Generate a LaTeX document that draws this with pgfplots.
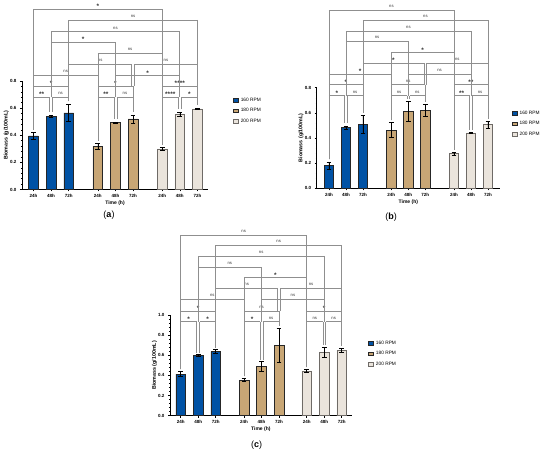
\documentclass[border=0pt]{standalone}
\usepackage{fontspec}
\setmainfont{Liberation Sans}
\usepackage{pgfplots}
\pgfplotsset{compat=1.18}
\definecolor{pblue}{HTML}{0052A5}
\definecolor{ptan}{HTML}{C8A675}
\definecolor{plight}{HTML}{EAE4DC}
\definecolor{brkgray}{HTML}{8F8F8F}
\definecolor{lightedge}{HTML}{6E6A66}
\newcommand{\s}[1]{\raisebox{-2.2pt}{\fontsize{6.5}{6.5}\selectfont\bfseries #1}}
\newcommand{\brk}[6]{%
  \addplot[brk] coordinates {(#1,#2) (#1,#5)};
  \addplot[brk] coordinates {(#1,#5) (#3,#5)} node[pos=0.5, sig] {#6};
  \addplot[brk] coordinates {(#3,#5) (#3,#4)};
}
\tikzset{sig/.style={anchor=base, yshift=2.6pt, inner sep=0pt, font=\fontsize{4.2}{4.2}\selectfont, text=black!80}}
\pgfplotsset{
  brk/.style={brkgray, line width=0.6pt, no markers, forget plot},
  ebar/.style={
    error bars/y dir=both, error bars/y explicit,
    error bars/error bar style={black, line width=0.55pt},
    error bars/error mark options={rotate=90, black, mark size=2.4pt, line width=0.55pt}},
  b160/.style={ybar, bar width=0.55, bar shift=0pt, fill=pblue, draw=black!85, line width=0.6pt, ebar},
  b180/.style={ybar, bar width=0.55, bar shift=0pt, fill=ptan, draw=black!85, line width=0.6pt, ebar},
  b200/.style={ybar, bar width=0.55, bar shift=0pt, fill=plight, draw=lightedge, line width=0.6pt, ebar},
  panel/.style={
    scale only axis, clip=false, anchor=south west,
    axis x line*=bottom, axis y line*=left,
    axis line style={black, line width=0.6pt},
    ymin=0,
    tick align=outside, major tick length=2pt, minor tick length=1.2pt,
    tick style={black, line width=0.5pt},
    minor y tick num=4,
    xticklabels={24h,48h,72h,24h,48h,72h,24h,48h,72h},
    tick label style={font=\fontsize{4.5}{5}\selectfont\bfseries},
    xticklabel style={yshift=0.5pt},
    xlabel={Time (h)},
    xlabel style={font=\fontsize{5}{6}\selectfont\bfseries, at={(axis description cs:0.5,0)}, anchor=center, yshift=-13.8pt},
    ylabel={Biomass (g/100mL)},
    ylabel style={font=\fontsize{5.3}{6}\selectfont\bfseries, at={(axis description cs:-0.085,0.5)}, anchor=center},
    legend cell align=left,
    legend image code/.code={\draw[##1,/tikz/.cd, line width=0.5pt] (0pt,-1.7pt) rectangle (5.2pt,1.7pt);},
    legend style={draw=none, fill=none, anchor=north west, inner sep=0pt, row sep=1.6pt,
      font=\fontsize{4.8}{5}\selectfont,
      /tikz/every even column/.append style={column sep=1pt}},
  }
}
\begin{document}
\begin{tikzpicture}
\path[use as bounding box] (0,0) rectangle (550pt,453pt);

% ---------------- (a) ----------------
\begin{axis}[panel, at={(22pt,263.5pt)}, width=186pt, height=108.5pt,
  xmin=-0.65, xmax=9.9, ymax=0.8,
  ytick={0,0.2,0.4,0.6,0.8}, yticklabels={0.0,0.2,0.4,0.6,0.8},
  xtick={0,1,2,3.65,4.65,5.65,7.3,8.3,9.3},
  legend style={at={(1.134,0.865)}}]
\addplot[b160] coordinates {(0,0.395) +- (0,0.025) (1,0.54) +- (0,0.01) (2,0.565) +- (0,0.065)};
\addlegendentry{160 RPM}
\addplot[b180] coordinates {(3.65,0.32) +- (0,0.02) (4.65,0.495) +- (0,0.004) (5.65,0.52) +- (0,0.03)};
\addlegendentry{180 RPM}
\addplot[b200] coordinates {(7.3,0.30) +- (0,0.01) (8.3,0.556) +- (0,0.015) (9.3,0.595) +- (0,0.005)};
\addlegendentry{200 RPM}
\brk{0}{0.44}{0.92}{0.57}{0.682}{\s{**}}
\brk{1.08}{0.57}{2}{0.65}{0.682}{ns}
\brk{3.65}{0.36}{4.57}{0.52}{0.682}{\s{**}}
\brk{4.73}{0.52}{5.65}{0.57}{0.682}{ns}
\brk{7.3}{0.33}{8.22}{0.59}{0.682}{\s{****}}
\brk{8.38}{0.59}{9.3}{0.62}{0.682}{\s{*}}
\brk{0}{0.44}{2}{0.65}{0.763}{\s{*}}
\brk{3.65}{0.36}{5.65}{0.57}{0.763}{\s{*}}
\brk{7.3}{0.33}{9.3}{0.62}{0.763}{\s{****}}
\brk{0}{0.44}{3.65}{0.36}{0.844}{ns}
\brk{4.65}{0.682}{8.3}{0.682}{0.84}{\s{*}}
\brk{2}{0.65}{5.57}{0.763}{0.923}{ns}
\brk{5.73}{0.763}{9.3}{0.62}{0.923}{ns}
\brk{3.65}{0.36}{7.3}{0.33}{1.004}{ns}
\brk{1}{0.682}{4.65}{0.682}{1.085}{\s{*}}
\brk{1}{0.682}{8.3}{0.682}{1.164}{ns}
\brk{2}{0.65}{9.3}{0.62}{1.25}{ns}
\brk{0}{0.44}{7.3}{0.33}{1.328}{\s{*}}
\end{axis}

% ---------------- (b) ----------------
\begin{axis}[panel, at={(316.7pt,264.7pt)}, width=183.3pt, height=100.6pt,
  xmin=-0.72, xmax=10.06, ymax=0.8,
  ytick={0,0.2,0.4,0.6,0.8}, yticklabels={0.0,0.2,0.4,0.6,0.8},
  xtick={0,1,2,3.66,4.66,5.66,7.35,8.35,9.35},
  legend style={at={(1.064,0.79)}}]
\addplot[b160] coordinates {(0,0.18) +- (0,0.03) (1,0.482) +- (0,0.015) (2,0.51) +- (0,0.07)};
\addlegendentry{160 RPM}
\addplot[b180] coordinates {(3.66,0.463) +- (0,0.06) (4.66,0.61) +- (0,0.08) (5.66,0.62) +- (0,0.05)};
\addlegendentry{180 RPM}
\addplot[b200] coordinates {(7.35,0.275) +- (0,0.01) (8.35,0.44) +- (0,0.005) (9.35,0.505) +- (0,0.03)};
\addlegendentry{200 RPM}
\brk{0}{0.23}{0.92}{0.52}{0.736}{\s{*}}
\brk{1.08}{0.52}{2}{0.60}{0.736}{ns}
\brk{3.66}{0.54}{4.58}{0.71}{0.736}{ns}
\brk{4.74}{0.71}{5.66}{0.69}{0.736}{ns}
\brk{7.35}{0.305}{8.27}{0.465}{0.736}{\s{**}}
\brk{8.43}{0.465}{9.35}{0.555}{0.736}{ns}
\brk{0}{0.23}{2}{0.60}{0.824}{\s{*}}
\brk{3.66}{0.54}{5.66}{0.69}{0.824}{ns}
\brk{7.35}{0.305}{9.35}{0.555}{0.824}{\s{**}}
\brk{0}{0.23}{3.66}{0.54}{0.909}{\s{*}}
\brk{4.66}{0.736}{8.35}{0.736}{0.909}{ns}
\brk{2}{0.60}{5.58}{0.824}{0.994}{\s{*}}
\brk{5.74}{0.824}{9.35}{0.555}{0.994}{ns}
\brk{3.66}{0.54}{7.35}{0.305}{1.078}{\s{*}}
\brk{1}{0.736}{4.66}{0.736}{1.171}{ns}
\brk{1}{0.736}{8.35}{0.736}{1.25}{ns}
\brk{2}{0.60}{9.35}{0.555}{1.338}{ns}
\brk{0}{0.23}{7.35}{0.305}{1.417}{ns}
\end{axis}

% ---------------- (c) ----------------
\begin{axis}[panel, at={(170pt,37.3pt)}, width=181.7pt, height=100.7pt,
  xmin=-0.61, xmax=9.77, ymax=1.0,
  ytick={0,0.2,0.4,0.6,0.8,1.0}, yticklabels={0.0,0.2,0.4,0.6,0.8,1.0},
  xtick={0,1,2,3.62,4.62,5.62,7.2,8.2,9.2},
  legend style={at={(1.09,0.765)}}]
\addplot[b160] coordinates {(0,0.414) +- (0,0.025) (1,0.596) +- (0,0.01) (2,0.636) +- (0,0.02)};
\addlegendentry{160 RPM}
\addplot[b180] coordinates {(3.62,0.354) +- (0,0.015) (4.62,0.487) +- (0,0.05) (5.62,0.70) +- (0,0.17)};
\addlegendentry{180 RPM}
\addplot[b200] coordinates {(7.2,0.444) +- (0,0.015) (8.2,0.632) +- (0,0.05) (9.2,0.652) +- (0,0.02)};
\addlegendentry{200 RPM}
\brk{0}{0.46}{0.92}{0.626}{0.933}{\s{*}}
\brk{1.08}{0.626}{2}{0.676}{0.933}{\s{*}}
\brk{3.62}{0.39}{4.54}{0.557}{0.933}{\s{*}}
\brk{4.70}{0.557}{5.62}{0.89}{0.933}{ns}
\brk{7.2}{0.48}{8.12}{0.70}{0.933}{ns}
\brk{8.28}{0.70}{9.2}{0.69}{0.933}{ns}
\brk{0}{0.46}{2}{0.676}{1.04}{\s{*}}
\brk{3.62}{0.39}{5.62}{0.89}{1.04}{ns}
\brk{7.2}{0.48}{9.2}{0.69}{1.04}{\s{*}}
\brk{0}{0.46}{3.62}{0.39}{1.159}{ns}
\brk{4.62}{0.933}{8.2}{0.933}{1.159}{ns}
\brk{2}{0.676}{5.54}{1.04}{1.265}{ns}
\brk{5.70}{1.04}{9.2}{0.69}{1.265}{ns}
\brk{3.62}{0.39}{7.2}{0.48}{1.37}{\s{*}}
\brk{1}{0.933}{4.62}{0.933}{1.474}{ns}
\brk{1}{0.933}{8.2}{0.933}{1.586}{ns}
\brk{2}{0.676}{9.2}{0.69}{1.695}{ns}
\brk{0}{0.46}{7.2}{0.48}{1.794}{ns}
\end{axis}

\node[font=\fontsize{9}{10}\selectfont] at (109pt,238pt) {(\textbf{a})};
\node[font=\fontsize{9}{10}\selectfont] at (391pt,236.3pt) {(\textbf{b})};
\node[font=\fontsize{9}{10}\selectfont] at (256.7pt,8pt) {(\textbf{c})};
\end{tikzpicture}
\end{document}
